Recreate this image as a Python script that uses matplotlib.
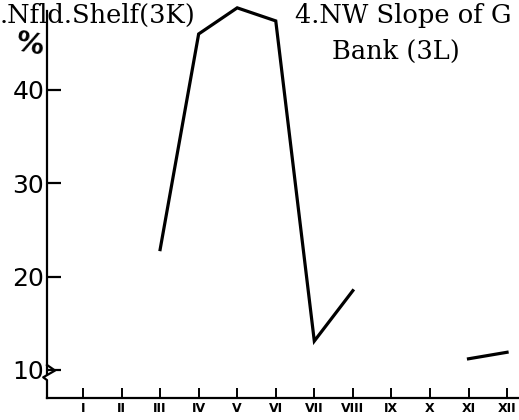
import matplotlib
matplotlib.use("Agg")
import matplotlib.pyplot as plt

# Monthly percentages (month index 1..12), gaps where no sampling
months_a = [3, 4, 5, 6, 7, 8]
pct_a = [22.9, 46.0, 48.8, 47.4, 13.1, 18.5]
months_b = [11, 12]
pct_b = [11.2, 11.9]
month_labels = ["I", "II", "III", "IV", "V", "VI", "VII", "VIII", "IX", "X", "XI", "XII"]
y_ticks = [10, 20, 30, 40]

W, H = 519, 420
fig = plt.figure(figsize=(W / 100, H / 100), dpi=100)
ax = fig.add_axes([47 / W, 1 - 398 / H, 1 - 47 / W, 398 / H])

ax.plot(months_a, pct_a, color="black", lw=2.3, solid_joinstyle="miter")
ax.plot(months_b, pct_b, color="black", lw=2.3)

ax.set_xlim(0.066, 12.31)
ax.set_ylim(7.0, 49.64)

for s in ("top", "right"):
    ax.spines[s].set_visible(False)
ax.spines["left"].set_linewidth(1.6)
ax.spines["bottom"].set_linewidth(1.6)
ax.spines["left"].set_bounds(9.6, 48.5)

ax.set_xticks(range(1, 13))
ax.set_xticklabels(month_labels, fontsize=9, fontweight="bold", family="DejaVu Sans")
ax.tick_params(axis="x", direction="in", length=7, width=1.4, pad=3)
ax.set_yticks(y_ticks)
ax.set_yticklabels([str(v) for v in y_ticks], fontsize=18, family="DejaVu Sans")
ax.tick_params(axis="y", direction="in", length=10, width=1.6, pad=2)

# axis break mark at the foot of the y-axis
tr = ax.transAxes
ax.plot([0.0, 0.017, -0.008, 0.0, 0.0], [0.083, 0.069, 0.052, 0.045, 0.0],
        color="black", lw=1.6, transform=tr, clip_on=False)

fig.text(29 / W, 1 - 45 / H, "%", fontsize=20, ha="center", va="center",
         rotation=-10, family="DejaVu Sans", fontweight="bold")

fig.text(0, 1 - 23 / H, ".Nfld.Shelf(3K)", fontsize=18.5, family="DejaVu Serif",
         ha="left", va="baseline")
fig.text(295 / W, 1 - 23 / H, "4.NW Slope of G", fontsize=18.5, family="DejaVu Serif",
         ha="left", va="baseline")
fig.text(332 / W, 1 - 59 / H, "Bank (3L)", fontsize=18.5, family="DejaVu Serif",
         ha="left", va="baseline")

fig.savefig("out.png", dpi=100)
